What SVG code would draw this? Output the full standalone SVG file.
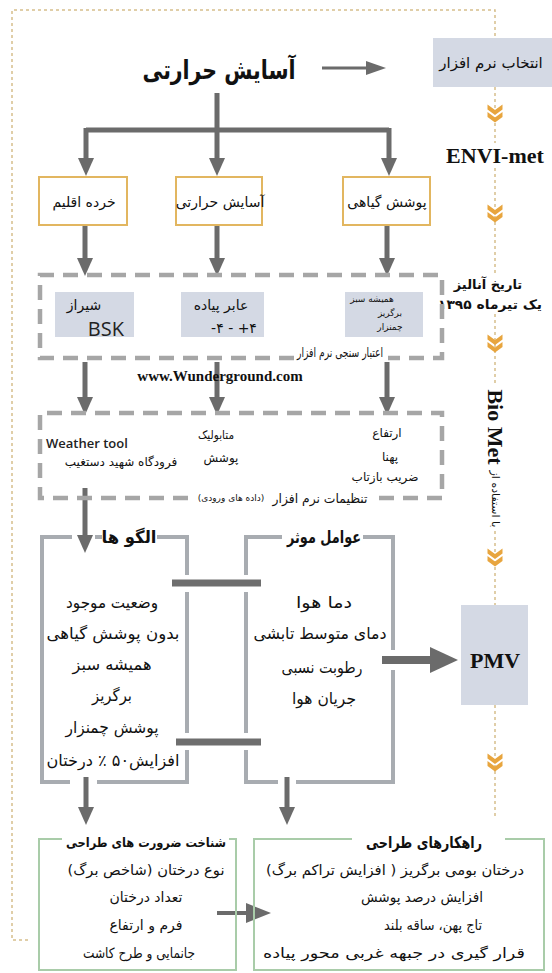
<svg xmlns="http://www.w3.org/2000/svg" width="552" height="973" viewBox="0 0 552 973">
<style>
.fa{font-family:"DejaVu Sans",sans-serif;fill:#111;text-anchor:middle;dominant-baseline:central;direction:rtl}
.fl{font-family:"DejaVu Sans",sans-serif;fill:#111;text-anchor:middle;dominant-baseline:central;direction:ltr;unicode-bidi:bidi-override}
.b{font-weight:bold}
.en{font-family:"Liberation Serif",serif;font-weight:bold;fill:#111;text-anchor:middle;dominant-baseline:central}
.sans{font-family:"Open Sans","Liberation Sans",sans-serif;fill:#222;dominant-baseline:central}
.dot{fill:none;stroke:#d6bf8c;stroke-width:1.5;stroke-dasharray:3 3}
.arr{fill:none;stroke:#6b6b6b;stroke-width:5}
.obox{fill:#fff;stroke:#e2b660;stroke-width:2}
.gbox{fill:#d4d9e4;stroke:none}
.dash{fill:none;stroke:#a6a6a6;stroke-width:4.5;stroke-dasharray:15 9}
.open{fill:none;stroke:#a8acb1;stroke-width:4}
.bar{stroke:#6e6e6e;stroke-width:7}
.green{fill:none;stroke:#a9cca9;stroke-width:2}
.chev{fill:#e8a53e}
</style>
<defs>
<marker id="ah" markerUnits="userSpaceOnUse" viewBox="0 0 18 16" refX="0" refY="8" markerWidth="18" markerHeight="16" orient="auto"><path d="M0,0 L18,8 L0,16 z" fill="#6b6b6b"/></marker>
<marker id="ahs" markerUnits="userSpaceOnUse" viewBox="0 0 20 14" refX="0" refY="7" markerWidth="20" markerHeight="14" orient="auto"><path d="M0,0 L20,7 L0,14 z" fill="#6b6b6b"/></marker>
<marker id="ahb" markerUnits="userSpaceOnUse" viewBox="0 0 28 26" refX="0" refY="13" markerWidth="28" markerHeight="26" orient="auto"><path d="M0,0 L28,13 L0,26 z" fill="#6b6b6b"/></marker>
<marker id="ahm" markerUnits="userSpaceOnUse" viewBox="0 0 25 20" refX="0" refY="10" markerWidth="25" markerHeight="20" orient="auto"><path d="M0,0 L25,10 L0,20 z" fill="#6b6b6b"/></marker>
<symbol id="chv" viewBox="-8 -9 16 18" overflow="visible"><path class="chev" d="M-7.5,-8.5 L0,-3 L7.5,-8.5 L7.5,-3.5 L0,2 L-7.5,-3.5 z M-7.5,-1 L0,4.5 L7.5,-1 L7.5,4 L0,9.5 L-7.5,4 z"/></symbol>
</defs>

<!-- outer dotted frame -->
<g id="frame">
<path class="dot" d="M28,940 H12 V10 H495 V40"/>
<path class="dot" d="M495,87 V143 M495,168 V273 M495,314 V384 M495,531 V605 M495,705 V817"/>
<use href="#chv" x="487" y="104" width="16" height="18"/>
<use href="#chv" x="487" y="204" width="16" height="18"/>
<use href="#chv" x="487" y="334" width="16" height="18"/>
<use href="#chv" x="487" y="548" width="16" height="18"/>
<use href="#chv" x="487" y="753" width="16" height="18"/>
</g>

<g id="connectors">
<line x1="322" y1="68" x2="366" y2="68" stroke="#6b6b6b" stroke-width="3" marker-end="url(#ahs)"/>
<path class="arr" d="M217,93 V130 M86,130 H389"/>
<line class="arr" x1="86" y1="128" x2="86" y2="158" marker-end="url(#ah)"/>
<line class="arr" x1="217" y1="130" x2="217" y2="158" marker-end="url(#ah)"/>
<line class="arr" x1="389" y1="128" x2="389" y2="158" marker-end="url(#ah)"/>
<line class="arr" x1="85" y1="226" x2="85" y2="258" marker-end="url(#ah)"/>
<line class="arr" x1="217" y1="226" x2="217" y2="258" marker-end="url(#ah)"/>
<line class="arr" x1="387" y1="226" x2="387" y2="258" marker-end="url(#ah)"/>
<line class="arr" x1="85" y1="362" x2="85" y2="397" marker-end="url(#ah)"/>
<line class="arr" x1="217" y1="362" x2="217" y2="397" marker-end="url(#ah)"/>
<line class="arr" x1="387" y1="362" x2="387" y2="397" marker-end="url(#ah)"/>
<line class="arr" x1="85" y1="488" x2="85" y2="535" marker-end="url(#ah)"/>
<line class="arr" x1="86" y1="777" x2="86" y2="807" marker-end="url(#ah)"/>
<line class="arr" x1="287" y1="777" x2="287" y2="807" marker-end="url(#ah)"/>
<line x1="382" y1="660" x2="430" y2="660" stroke="#6b6b6b" stroke-width="8" marker-end="url(#ahb)"/>
<line x1="217" y1="913" x2="246" y2="913" stroke="#6b6b6b" stroke-width="4" marker-end="url(#ahm)"/>
<line class="bar" x1="172" y1="583" x2="261" y2="583"/>
<line class="bar" x1="176" y1="742" x2="261" y2="742"/>
</g>

<g id="title">
<text class="fa b" x="219" y="70" font-size="26" textLength="153" lengthAdjust="spacingAndGlyphs">آسایش حرارتی</text>
</g>

<g id="software">
<rect class="gbox" x="433" y="38" width="119" height="49"/>
<text class="fa" x="491" y="63" font-size="15">انتخاب نرم افزار</text>
</g>

<g id="side-labels">
<text class="en" x="495" y="155" font-size="22">ENVI-met</text>
<text class="fa b" x="488" y="284" font-size="13">تاریخ آنالیز</text>
<text class="fa b" x="490" y="304" font-size="13" textLength="104" lengthAdjust="spacingAndGlyphs">یک تیرماه ۱۳۹۵</text>
<text class="en" transform="translate(495,427) rotate(90)" font-size="22">Bio Met</text>
<text class="fa" transform="translate(495,499) rotate(90)" font-size="11">با استفاده از</text>
</g>

<g id="microclimate">
<rect class="obox" x="39" y="177" width="88" height="48"/>
<text class="fa" x="84" y="202" font-size="14">خرده اقلیم</text>
</g>
<g id="thermal">
<rect class="obox" x="176" y="177" width="86" height="48"/>
<text class="fa" x="220" y="202" font-size="14">آسایش حرارتی</text>
</g>
<g id="vegetation">
<rect class="obox" x="343" y="177" width="87" height="48"/>
<text class="fa" x="387" y="202" font-size="14">پوشش گیاهی</text>
</g>

<g id="validation">
<path class="dash" d="M294,358 H40 V275 H442 V358 H388"/>
<text class="fa" x="340" y="352" font-size="13" textLength="86" lengthAdjust="spacingAndGlyphs">اعتبار سنجی نرم افزار</text>
<text class="en" x="220" y="376" font-size="15">www.Wunderground.com</text>
<g id="shiraz">
<rect class="gbox" x="55" y="292" width="79" height="45"/>
<text class="fa" x="84" y="305" font-size="14">شیراز</text>
<text class="sans" x="124" y="328" font-size="20" text-anchor="end">BSK</text>
</g>
<g id="pedestrian">
<rect class="gbox" x="181" y="292" width="83" height="45"/>
<text class="fa" x="221" y="305" font-size="14">عابر پیاده</text>
<text class="fl" x="234" y="328" font-size="14">-۴ - +۴</text>
</g>
<g id="plants">
<rect class="gbox" x="345" y="292" width="78" height="45"/>
<text class="fa" x="372" y="299" font-size="9">همیشه سبز</text>
<text class="fa" x="390" y="313" font-size="9">برگریز</text>
<text class="fa" x="390" y="327" font-size="9">چمنزار</text>
</g>
</g>

<g id="settings">
<path class="dash" d="M188,498 H40 V413 H442 V498 H372"/>
<text class="sans" x="46" y="443" font-size="13" font-weight="600">Weather tool</text>
<text class="fa" x="121" y="462" font-size="12">فرودگاه شهید دستغیب</text>
<text class="fa" x="216" y="435" font-size="12" textLength="36" lengthAdjust="spacingAndGlyphs">متابولیک</text>
<text class="fa" x="221" y="458" font-size="12">پوشش</text>
<text class="fa" x="387" y="433" font-size="12">ارتفاع</text>
<text class="fa" x="390" y="457" font-size="12">پهنا</text>
<text class="fa" x="385" y="477" font-size="12">ضریب بازتاب</text>
<text class="fa" x="320" y="498" font-size="13" textLength="95" lengthAdjust="spacingAndGlyphs">تنظیمات نرم افزار</text>
<text class="fa" x="231" y="498" font-size="9">(داده های ورودی)</text>
</g>

<g id="patterns">
<path class="open" d="M72,537 H42 V782 H70 M97,782 H187 V750 M187,733 V592 M187,575 V537 H157 M95,537 H102"/>
<text class="fa b" x="129" y="537" font-size="17" textLength="55" lengthAdjust="spacingAndGlyphs">الگو ها</text>
<text class="fa" x="112" y="602" font-size="16" textLength="92" lengthAdjust="spacingAndGlyphs">وضعیت موجود</text>
<text class="fa" x="113" y="633" font-size="16" textLength="133" lengthAdjust="spacingAndGlyphs">بدون پوشش گیاهی</text>
<text class="fa" x="112" y="664" font-size="16" textLength="79" lengthAdjust="spacingAndGlyphs">همیشه سبز</text>
<text class="fa" x="112" y="695" font-size="16" textLength="40" lengthAdjust="spacingAndGlyphs">برگریز</text>
<text class="fa" x="112" y="727" font-size="16" textLength="93" lengthAdjust="spacingAndGlyphs">پوشش چمنزار</text>
<text class="fa" x="113" y="760" font-size="16" textLength="133" lengthAdjust="spacingAndGlyphs">افزایش۵۰ ٪ درختان</text>
</g>

<g id="factors">
<path class="open" d="M282,537 H246 V575 M246,592 V733 M246,750 V782 H278 M296,782 H393 V670 M393,650 V537 H363"/>
<text class="fa b" x="324" y="537" font-size="17" textLength="74" lengthAdjust="spacingAndGlyphs">عوامل موثر</text>
<text class="fa" x="324" y="602" font-size="16" textLength="56" lengthAdjust="spacingAndGlyphs">دما هوا</text>
<text class="fa" x="320" y="633" font-size="16" textLength="133" lengthAdjust="spacingAndGlyphs">دمای متوسط تابشی</text>
<text class="fa" x="322" y="667" font-size="16" textLength="81" lengthAdjust="spacingAndGlyphs">رطوبت نسبی</text>
<text class="fa" x="324" y="698" font-size="16" textLength="64" lengthAdjust="spacingAndGlyphs">جریان هوا</text>
</g>

<g id="pmv">
<rect class="gbox" x="461" y="605" width="67" height="100"/>
<text class="en" x="495" y="660" font-size="22">PMV</text>
</g>

<g id="needs">
<path class="green" d="M62,839 H39 V970 H236 V839 H229"/>
<text class="fa b" x="146" y="842" font-size="13" textLength="160" lengthAdjust="spacingAndGlyphs">شناخت ضرورت های طراحی</text>
<text class="fa" x="146" y="870" font-size="14" textLength="157" lengthAdjust="spacingAndGlyphs">نوع درختان (شاخص برگ)</text>
<text class="fa" x="146" y="897" font-size="14">تعداد درختان</text>
<text class="fa" x="146" y="925" font-size="14">فرم و ارتفاع</text>
<text class="fa" x="139" y="953" font-size="14" textLength="112" lengthAdjust="spacingAndGlyphs">جانمایی و طرح کاشت</text>
</g>

<g id="strategies">
<path class="green" d="M352,839 H254 V970 H544 V839 H505"/>
<text class="fa b" x="424" y="842" font-size="16" textLength="116" lengthAdjust="spacingAndGlyphs">راهکارهای طراحی</text>
<text class="fa" x="395" y="870" font-size="14" textLength="258" lengthAdjust="spacingAndGlyphs">درختان بومی برگریز ( افزایش تراکم برگ)</text>
<text class="fa" x="422" y="897" font-size="14" textLength="122" lengthAdjust="spacingAndGlyphs">افزایش درصد پوشش</text>
<text class="fa" x="433" y="925" font-size="14" textLength="98" lengthAdjust="spacingAndGlyphs">تاج پهن، ساقه بلند</text>
<text class="fa" x="394" y="953" font-size="14" textLength="262" lengthAdjust="spacingAndGlyphs">قرار گیری در جبهه غربی محور پیاده</text>
</g>
</svg>
